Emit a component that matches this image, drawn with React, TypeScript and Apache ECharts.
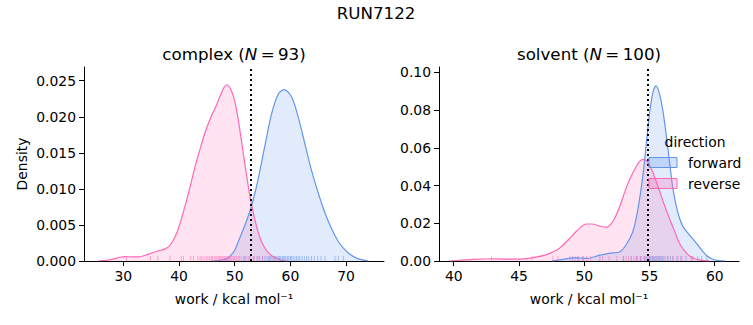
import React, { useEffect, useRef } from 'react';
import * as echarts from 'echarts';

const BLUE = '#6495ED';
const PINK = '#FF69B4';
const FONT = '"DejaVu Sans", sans-serif';

// KDE curves: [work, density]
const complexForward: [number, number][] = [
  [46.0, 0], [47.5, 0.0001], [48.5, 0.0003], [49.2, 0.0007], [50.0, 0.0015], [50.65, 0.0027],
  [51.85, 0.005], [53.05, 0.0077], [54.25, 0.0115], [55.45, 0.0161], [56.65, 0.0205],
  [57.85, 0.0232], [58.9, 0.02375], [60.25, 0.0227], [61.45, 0.0198], [62.65, 0.0161],
  [63.85, 0.0124], [65.3, 0.0087], [66.8, 0.0055], [68.6, 0.0027], [70.4, 0.0011],
  [72.2, 0.0003], [74.0, 0],
];
const complexReverse: [number, number][] = [
  [25.4, 0], [27.0, 0.0001], [28.3, 0.0003], [29.4, 0.00052], [30.4, 0.0006], [31.6, 0.00058],
  [32.8, 0.00058], [34.0, 0.0008], [35.2, 0.00115], [36.4, 0.0014], [37.6, 0.00172],
  [38.4, 0.0022], [39.0, 0.0029], [39.7, 0.0041], [40.3, 0.0055], [41.5, 0.0088], [43.0, 0.0134],
  [44.0, 0.0161], [44.8, 0.0181], [45.7, 0.0199], [46.6, 0.0214], [47.4, 0.0229], [48.1, 0.0241],
  [48.6, 0.02444], [49.1, 0.0241], [49.75, 0.0229], [50.4, 0.0207], [50.95, 0.018],
  [51.86, 0.0133], [52.75, 0.0089], [53.65, 0.0056], [54.3, 0.0038], [54.85, 0.0026],
  [55.5, 0.0017], [56.0, 0.0012], [56.7, 0.0007], [57.5, 0.0004], [58.5, 0.0001], [59.5, 0],
];
const solventForward: [number, number][] = [
  [47.5, 0], [48.3, 0.0007], [49.1, 0.0017], [49.6, 0.0016], [50.2, 0.0014], [51.2, 0.0031],
  [52.0, 0.0042], [52.7, 0.0048], [53.2, 0.0085], [53.72, 0.0155], [54.1, 0.027], [54.49, 0.045],
  [54.75, 0.062], [55.0, 0.078], [55.25, 0.089], [55.5, 0.0928], [55.75, 0.089], [56.02, 0.08],
  [56.28, 0.067], [56.53, 0.053], [56.78, 0.039], [57.04, 0.0295], [57.3, 0.0228], [57.55, 0.0185],
  [57.9, 0.0152], [58.2, 0.0127], [58.7, 0.0085], [59.1, 0.005], [59.4, 0.0028], [59.85, 0.0009],
  [60.3, 0.0002], [60.8, 0],
];
const solventReverse: [number, number][] = [
  [39.7, 0], [40.5, 0.0004], [41.5, 0.0009], [42.9, 0.0012], [44.0, 0.001], [44.8, 0.001],
  [46.07, 0.0018], [47.1, 0.0034], [48.1, 0.0068], [49.13, 0.0138], [49.7, 0.0178],
  [50.15, 0.0196], [50.6, 0.0196], [51.2, 0.0184], [51.68, 0.0179], [52.2, 0.021],
  [52.7, 0.0285], [53.1, 0.0365], [53.47, 0.043], [53.9, 0.049], [54.23, 0.0526], [54.49, 0.0539],
  [54.8, 0.0528], [55.2, 0.048], [55.6, 0.0405], [56.1, 0.0305], [56.6, 0.0213], [57.0, 0.0145],
  [57.3, 0.0094], [57.8, 0.0044], [58.3, 0.0017], [58.9, 0.0005], [59.6, 0],
];

// Rug samples (approximate positions)
const complexForwardRug = [
  51.8, 52.6, 53.4, 54.0, 54.5, 55.0, 55.4, 55.8, 56.1, 56.4, 56.7, 57.0, 57.3, 57.6, 57.9, 58.1,
  58.3, 58.6, 58.8, 59.0, 59.2, 59.5, 59.7, 60.0, 60.2, 60.5, 60.8, 61.1, 61.4, 61.7, 62.1, 62.5,
  62.9, 63.3, 63.8, 64.3, 64.9, 65.5, 66.2, 68.0, 68.6, 69.5,
];
const complexReverseRug = [
  30.6, 34.9, 36.2, 38.4, 40.4, 40.8, 42.1, 42.6, 43.4, 43.8, 44.1, 44.5, 44.9, 45.2, 45.5, 45.8,
  46.0, 46.3, 46.6, 46.8, 47.1, 47.3, 47.5, 47.7, 47.9, 48.1, 48.3, 48.5, 48.7, 48.9, 49.1, 49.3,
  49.5, 49.8, 50.0, 50.3, 50.6, 50.9, 51.2, 51.6, 52.0, 52.4, 52.9, 53.5, 54.2, 55.0, 56.2, 57.2,
];
const solventForwardRug = [
  49.1, 49.5, 49.9, 51.2, 53.0, 53.6, 54.0, 54.3, 54.6, 54.8, 55.0, 55.1, 55.2, 55.3, 55.4, 55.5,
  55.6, 55.7, 55.8, 55.9, 56.0, 56.2, 56.4, 56.6, 56.8, 57.1, 57.4, 57.8, 58.2, 58.7, 59.0, 59.4,
];
const solventReverseRug = [
  42.9, 46.0, 47.6, 48.0, 48.9, 49.3, 49.6, 49.9, 50.2, 50.5, 51.4, 51.9, 52.5, 53.0, 53.2, 53.4,
  53.6, 53.8, 54.0, 54.1, 54.3, 54.4, 54.6, 54.7, 54.9, 55.0, 55.2, 55.5, 55.8, 56.1, 56.4, 56.8,
  57.2, 57.5, 58.3,
];

const complexCutoff = 52.9;
const solventCutoff = 54.85;

const complexXTicks = [30, 40, 50, 60, 70];
const complexYTicks = [0, 0.005, 0.01, 0.015, 0.02, 0.025];
const solventXTicks = [40, 45, 50, 55, 60];
const solventYTicks = [0, 0.02, 0.04, 0.06, 0.08, 0.1];

const complexXRange = [22.95, 76.8];
const complexYRange = [0, 0.0269];
const solventXRange = [38.87, 61.86];
const solventYRange = [0, 0.1028];

const XNAME = 'work / kcal mol\u207B\u00B9';
const TICK_FS = 13.9;
const TITLE_FS = 16.7;

function xAxis(gridIndex: number, range: number[], ticks: number[]) {
  return {
    type: 'value', gridIndex, min: range[0], max: range[1],
    axisLine: { show: true, onZero: false, lineStyle: { color: '#000', width: 1 } },
    axisTick: { show: true, length: 5, customValues: ticks, lineStyle: { color: '#000', width: 1 } },
    axisLabel: { customValues: ticks, color: '#000', fontSize: TICK_FS, margin: 8, fontFamily: FONT },
    splitLine: { show: false },
    name: XNAME, nameLocation: 'middle', nameGap: 31,
    nameTextStyle: { color: '#000', fontSize: TICK_FS, fontFamily: FONT },
  };
}

function yAxis(gridIndex: number, range: number[], ticks: number[], digits: number, name: string) {
  return {
    type: 'value', gridIndex, min: range[0], max: range[1],
    axisLine: { show: true, onZero: false, lineStyle: { color: '#000', width: 1 } },
    axisTick: { show: true, length: 5, customValues: ticks, lineStyle: { color: '#000', width: 1 } },
    axisLabel: {
      customValues: ticks, color: '#000', fontSize: TICK_FS, margin: 8, fontFamily: FONT,
      formatter: (v: number) => v.toFixed(digits),
    },
    splitLine: { show: false },
    name, nameLocation: 'middle', nameGap: 55,
    nameTextStyle: { color: '#000', fontSize: TICK_FS, fontFamily: FONT },
  };
}

function kde(name: string, idx: number, data: [number, number][], color: string, fill: string, cutoff?: number) {
  const s: any = {
    name, type: 'line', xAxisIndex: idx, yAxisIndex: idx, data,
    smooth: 0.3, showSymbol: false, symbol: 'none',
    lineStyle: { color, width: 1.2 }, areaStyle: { color: fill, origin: 'start' },
    silent: true, z: 2,
  };
  if (cutoff !== undefined) {
    s.markLine = {
      silent: true, symbol: 'none', label: { show: false },
      lineStyle: { color: '#000', type: [2, 3], width: 2 },
      data: [{ xAxis: cutoff }], z: 5,
    };
  }
  return s;
}

function rug(idx: number, values: number[], color: string) {
  return {
    type: 'custom', xAxisIndex: idx, yAxisIndex: idx, silent: true, z: 3,
    data: values.map((v) => [v, 0]),
    encode: { x: 0, y: 1 },
    renderItem: (_p: any, api: any) => {
      const p = api.coord([api.value(0), 0]);
      return {
        type: 'line',
        shape: { x1: p[0], y1: p[1], x2: p[0], y2: p[1] - 5 },
        style: { stroke: color, lineWidth: 1 },
      };
    },
  };
}

const BLUE_FILL = 'rgba(100,149,237,0.27)';
const PINK_FILL = 'rgba(255,105,180,0.27)';
const BLUE_RUG = 'rgba(100,149,237,0.55)';
const PINK_RUG = 'rgba(255,105,180,0.55)';

export default function App() {
  const ref = useRef<HTMLDivElement>(null);
  useEffect(() => {
    document.body.style.margin = '0';
    const chart = echarts.init(ref.current!, null, { renderer: 'svg' });
    const titleStyle = (size: number) => ({
      color: '#000', fontSize: size, fontWeight: 'normal', fontFamily: FONT,
      rich: { i: { fontStyle: 'italic', fontSize: size, fontFamily: FONT, color: '#000' } },
    });
    chart.setOption({
      animation: false,
      backgroundColor: '#fff',
      title: [
        { text: 'RUN7122', left: 376, top: 4, textAlign: 'center', padding: 0, textStyle: titleStyle(TITLE_FS) },
        { text: 'complex ({i|N}\u2009=\u200993)', left: 234, top: 45, textAlign: 'center', padding: 0, textStyle: titleStyle(TITLE_FS) },
        { text: 'solvent ({i|N}\u2009=\u2009100)', left: 589, top: 45, textAlign: 'center', padding: 0, textStyle: titleStyle(TITLE_FS) },
      ],
      grid: [
        { left: 84, top: 67, width: 300, height: 194 },
        { left: 439, top: 67, width: 300, height: 194 },
      ],
      xAxis: [xAxis(0, complexXRange, complexXTicks), xAxis(1, solventXRange, solventXTicks)],
      yAxis: [
        yAxis(0, complexYRange, complexYTicks, 3, 'Density'),
        yAxis(1, solventYRange, solventYTicks, 2, ''),
      ],
      series: [
        kde('forward', 0, complexForward, BLUE, BLUE_FILL, complexCutoff),
        kde('reverse', 0, complexReverse, PINK, PINK_FILL),
        rug(0, complexForwardRug, BLUE_RUG),
        rug(0, complexReverseRug, PINK_RUG),
        kde('forward', 1, solventForward, BLUE, BLUE_FILL, solventCutoff),
        kde('reverse', 1, solventReverse, PINK, PINK_FILL),
        rug(1, solventForwardRug, BLUE_RUG),
        rug(1, solventReverseRug, PINK_RUG),
      ],
      graphic: [
        { type: 'text', x: 695, y: 142, z: 10, style: { text: 'direction', font: `${TICK_FS}px ${FONT}`, fill: '#000', align: 'center', verticalAlign: 'middle' } },
        { type: 'rect', z: 10, shape: { x: 649, y: 157.5, width: 28, height: 10 }, style: { fill: BLUE_FILL, stroke: BLUE, lineWidth: 1 } },
        { type: 'text', x: 688, y: 162.5, z: 10, style: { text: 'forward', font: `${TICK_FS}px ${FONT}`, fill: '#000', align: 'left', verticalAlign: 'middle' } },
        { type: 'rect', z: 10, shape: { x: 649, y: 178.5, width: 28, height: 10 }, style: { fill: PINK_FILL, stroke: PINK, lineWidth: 1 } },
        { type: 'text', x: 688, y: 183.5, z: 10, style: { text: 'reverse', font: `${TICK_FS}px ${FONT}`, fill: '#000', align: 'left', verticalAlign: 'middle' } },
      ],
    });
    return () => chart.dispose();
  }, []);
  return <div ref={ref} style={{ position: 'fixed', left: 0, top: 0, width: 753, height: 325 }} />;
}
